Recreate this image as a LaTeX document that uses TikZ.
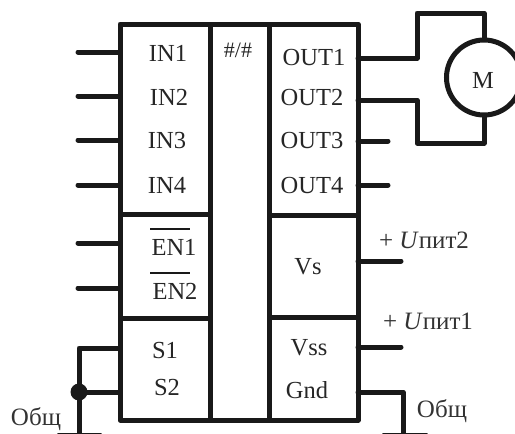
\documentclass[tikz,border=0pt]{standalone}
\usepackage{fontspec}
\setmainfont{Liberation Serif}
\tikzset{
  wire/.style={line width=5pt,line cap=round,line join=round,black!90},
  frame/.style={line width=5pt,line cap=butt,line join=round,black!90},
  lbl/.style={font=\fontsize{24.5}{28}\selectfont,text=black!85,inner sep=0pt,anchor=base},
  sup/.style={font=\fontsize{25}{28}\selectfont,text=black!80,inner sep=0pt,anchor=base}
}
\begin{document}
\begin{tikzpicture}[x=1pt,y=-1pt]
\useasboundingbox (0,0) rectangle (515,434);
\clip (0,0) rectangle (515,434);
% frame
\coordinate (tl) at (120,24); \coordinate (tr) at (358,24);
\coordinate (bl) at (120,420); \coordinate (br) at (358,420);
\coordinate (ma) at (210,24); \coordinate (mb) at (210,420);
\coordinate (mc) at (269,24); \coordinate (md) at (269,420);
\coordinate (l1) at (120,214); \coordinate (l1e) at (210,214);
\coordinate (l2) at (120,318); \coordinate (l2e) at (210,318);
\coordinate (r1) at (269,215); \coordinate (r1e) at (358,215);
\coordinate (r2) at (269,317); \coordinate (r2e) at (358,317);
\draw[frame] (tl) -- (tr) -- (br) -- (bl) -- cycle;
\draw[frame] (ma) -- (mb) (mc) -- (md) (l1) -- (l1e) (l2) -- (l2e) (r1) -- (r1e) (r2) -- (r2e);
% left pins
\foreach \n/\y in {a/52,b/96,c/140,d/185,e/243,f/288}{
  \coordinate (p\n) at (120,\y); \coordinate (q\n) at (78,\y);
  \draw[wire] (p\n) -- (q\n);
}
\foreach \n/\y in {g/141,h/185}{
  \coordinate (p\n) at (358,\y); \coordinate (q\n) at (388,\y);
  \draw[wire] (p\n) -- (q\n);
}
\foreach \n/\y in {i/261,j/347}{
  \coordinate (p\n) at (358,\y); \coordinate (q\n) at (401,\y);
  \draw[wire] (p\n) -- (q\n);
}
% motor
\node[circle,draw,line width=5pt,black!90,minimum size=75pt,inner sep=0pt] (motor) at (484,77.5) {};
\node[lbl] (mlabel) at (483,88) {M};
\coordinate (o1) at (358,58); \coordinate (o1a) at (417,58); \coordinate (o1b) at (417,13); \coordinate (o1c) at (484,13);
\coordinate (o2) at (358,100); \coordinate (o2a) at (417,100); \coordinate (o2b) at (417,143); \coordinate (o2c) at (484,143);
\draw[wire] (o1) -- (o1a) -- (o1b) -- (o1c) -- (motor.north);
\draw[wire] (o2) -- (o2a) -- (o2b) -- (o2c) -- (motor.south);
% grounds
\coordinate (s1) at (120,348); \coordinate (s1a) at (79,348); \coordinate (s2) at (120,392);
\coordinate (g1) at (79,392); \coordinate (g1b) at (79,435);
\coordinate (g1l) at (59,435); \coordinate (g1r) at (100,435);
\draw[wire] (s1) -- (s1a) -- (g1b);
\draw[wire] (s2) -- (g1);
\draw[wire] (g1l) -- (g1r);
\fill[black!90] (g1) circle (8.5pt);
\coordinate (gn) at (358,392); \coordinate (gna) at (403,392); \coordinate (gnb) at (403,435);
\coordinate (g2l) at (384,435); \coordinate (g2r) at (426,435);
\draw[wire] (gn) -- (gna) -- (gnb);
\draw[wire] (g2l) -- (g2r);
% labels
\node[lbl] (t1) at (168,61) {IN1};
\node[lbl] (t2) at (169,105) {IN2};
\node[lbl] (t3) at (167,148) {IN3};
\node[lbl] (t4) at (167,193) {IN4};
\node[lbl] (t5) at (174,255) {EN1};
\node[lbl] (t6) at (175,299) {EN2};
\node[lbl] (t7) at (165,358) {S1};
\node[lbl] (t8) at (167,395) {S2};
\node[lbl,font=\fontsize{22}{26}\selectfont] (t9) at (238,57) {\#/\#};
\node[lbl] (t10) at (314,65) {OUT1};
\node[lbl] (t11) at (312,105) {OUT2};
\node[lbl] (t12) at (312,148) {OUT3};
\node[lbl] (t13) at (312,193) {OUT4};
\node[lbl] (t14) at (308,274) {Vs};
\node[lbl] (t15) at (309,355) {Vss};
\node[lbl] (t16) at (307,398) {Gnd};
\node[sup] (t17) at (424,248) {+ \textit{U}пит2};
\node[sup] (t18) at (428,329) {+ \textit{U}пит1};
\node[sup] (t19) at (442,417) {Общ};
\node[sup] (t20) at (36,425) {Общ};
\coordinate (b1a) at (150,229); \coordinate (b1b) at (190,229);
\coordinate (b2a) at (150,273); \coordinate (b2b) at (190,273);
\draw[line width=2.6pt,black!90] (b1a) -- (b1b) (b2a) -- (b2b);
\end{tikzpicture}
\end{document}
